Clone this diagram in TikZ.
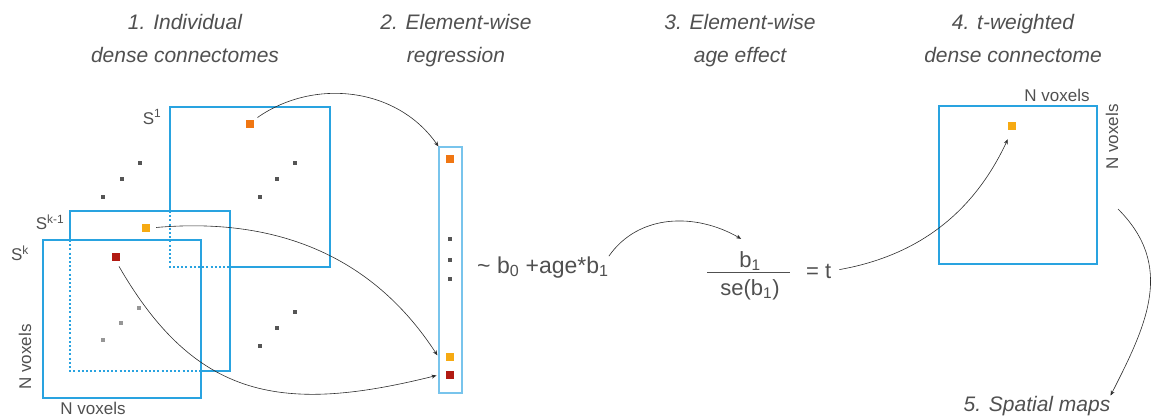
\documentclass[tikz,border=0pt]{standalone}
\usepackage{fontspec}
\setmainfont{Liberation Sans}
\definecolor{mxblue}{RGB}{41,163,224}
\definecolor{vecblue}{RGB}{120,196,236}
\definecolor{celorange}{RGB}{240,118,18}
\definecolor{celyellow}{RGB}{246,170,18}
\definecolor{celred}{RGB}{178,26,18}
\definecolor{dotgray}{RGB}{85,85,85}
\definecolor{dotlight}{RGB}{150,150,150}
\definecolor{txtgray}{RGB}{80,80,80}
\definecolor{linkgray}{RGB}{45,45,45}
\usetikzlibrary{arrows.meta,positioning,calc}

\begin{document}
\begin{tikzpicture}[x=1pt, y=1pt,
  ttl/.style={align=center, anchor=north, inner sep=0pt, font=\fontsize{21}{33}\selectfont\itshape, text=txtgray},
  lbl/.style={inner sep=0pt, font=\fontsize{17}{20}\selectfont, text=txtgray},
  eqn/.style={inner sep=0pt, font=\fontsize{23}{26}\selectfont, text=txtgray},
  frc/.style={inner sep=0pt, font=\fontsize{22}{26}\selectfont, text=txtgray},
  mx/.style={draw=mxblue, line width=1.8pt},
  hid/.style={mx, dash pattern=on 2pt off 2.2pt},
  cell/.style={minimum size=8pt, inner sep=0pt},
  gdot/.style={fill=dotgray, minimum size=4.5pt, inner sep=0pt},
  ldot/.style={fill=dotlight, minimum size=4.5pt, inner sep=0pt},
  link/.style={-{Stealth[length=5pt,width=4pt]}, line width=0.6pt, draw=linkgray}
]
  \useasboundingbox (0,0) rectangle (1159,416);

  %% Step titles
  \node[ttl] (t1) at (185,402) {1. Individual\\dense connectomes};
  \node[ttl] (t2) at (456,402) {2. Element-wise\\regression};
  \node[ttl] (t3) at (740,402) {3. Element-wise\\age effect};
  \node[ttl] (t4) at (1013,402) {4. t-weighted\\dense connectome};

  %% Stack of subject matrices (hidden edges dotted)
  \draw[mx] (170,205) -- (170,309) -- (330,309) -- (330,149) -- (230,149);
  \draw[hid] (170,205) -- (170,149) -- (230,149);
  \draw[mx] (70,176) -- (70,205) -- (230,205) -- (230,45) -- (201,45);
  \draw[hid] (70,176) -- (70,45) -- (201,45);
  \node[mx, minimum size=158pt, inner sep=0pt] (sk) at (122,97) {};

  \node[lbl] (s1) at (152,299) {S\textsuperscript{1}};
  \node[lbl] (sk1) at (50,194) {S\textsuperscript{k-1}};
  \node[lbl] (skl) at (20,163) {S\textsuperscript{k}};
  \node[lbl, rotate=90] (nvl) at (25,59) {N voxels};
  \node[lbl] (nvb) at (93,8) {N voxels};

  %% Selected elements
  \node[cell, fill=celorange] (c1) at (250,292) {};
  \node[cell, fill=celyellow] (ck1) at (146,188) {};
  \node[cell, fill=celred] (ck) at (116,159) {};

  %% Dots between and inside matrices
  \node[gdot] (d1) at (140,253) {};
  \node[gdot] (d2) at (122,237) {};
  \node[gdot] (d3) at (103,219) {};
  \node[gdot] (d4) at (295,253) {};
  \node[gdot] (d5) at (277,237) {};
  \node[gdot] (d6) at (260,219) {};
  \node[ldot] (d7) at (139,108) {};
  \node[ldot] (d8) at (121,93) {};
  \node[ldot] (d9) at (103,76) {};
  \node[gdot] (d10) at (295,104) {};
  \node[gdot] (d11) at (277,88) {};
  \node[gdot] (d12) at (260,70) {};

  %% Element vector
  \node[draw=vecblue, line width=1.1pt, minimum width=23pt, minimum height=246pt, inner sep=0pt] (vbox) at (450.5,146) {};
  \node[cell, fill=celorange] (v1) at (450,257) {};
  \node[gdot] (vd1) at (450,177) {};
  \node[gdot] (vd2) at (450,156) {};
  \node[gdot] (vd3) at (450,137) {};
  \node[cell, fill=celyellow] (v2) at (450,59) {};
  \node[cell, fill=celred] (v3) at (450,41) {};

  \draw[link, shorten <=4pt] (c1.north east) to[out=35, in=125] (vbox.north west);
  \draw[link, shorten <=6pt, shorten >=2pt] (ck1.east) to[out=5, in=123] (vbox.west |- v2);
  \draw[link, shorten <=6pt, shorten >=2pt] (ck.south) to[out=-60, in=194, looseness=1.2] (vbox.west |- v3);

  %% Regression and t statistic
  \node[eqn, anchor=base west] (reg) at (477,143) {\textasciitilde{} b\textsubscript{0} +age*b\textsubscript{1}};
  \node[frc, anchor=base] (num) at (750,149) {b\textsubscript{1}};
  \node[frc, anchor=base] (den) at (750,121) {se(b\textsubscript{1})};
  \draw[line width=1pt, draw=txtgray] (707,144) -- (790,144);
  \node[frc, anchor=base west] (eqt) at (806,138) {= t};

  \draw[link] (reg.north east) to[out=55, in=150] ($(num.north west)+(2,12)$);

  %% t-weighted connectome
  \node[mx, minimum size=158pt, inner sep=0pt] (rmat) at (1018,231) {};
  \node[cell, fill=celyellow] (r1) at (1012,290) {};
  \node[lbl] (nvt) at (1057,321) {N voxels};
  \node[lbl, rotate=90] (nvr) at (1112,279) {N voxels};
  \coordinate (rout) at (1118,207);

  \draw[link, shorten <=8pt, shorten >=10pt] (eqt.east) to[out=10, in=245] (r1.south);

  %% Spatial maps
  \node[ttl, anchor=base] (t5) at (1037,5) {5. Spatial maps};
  \draw[link] (rout) to[out=-45, in=63, looseness=1.1] (t5.north east);
\end{tikzpicture}
\end{document}
